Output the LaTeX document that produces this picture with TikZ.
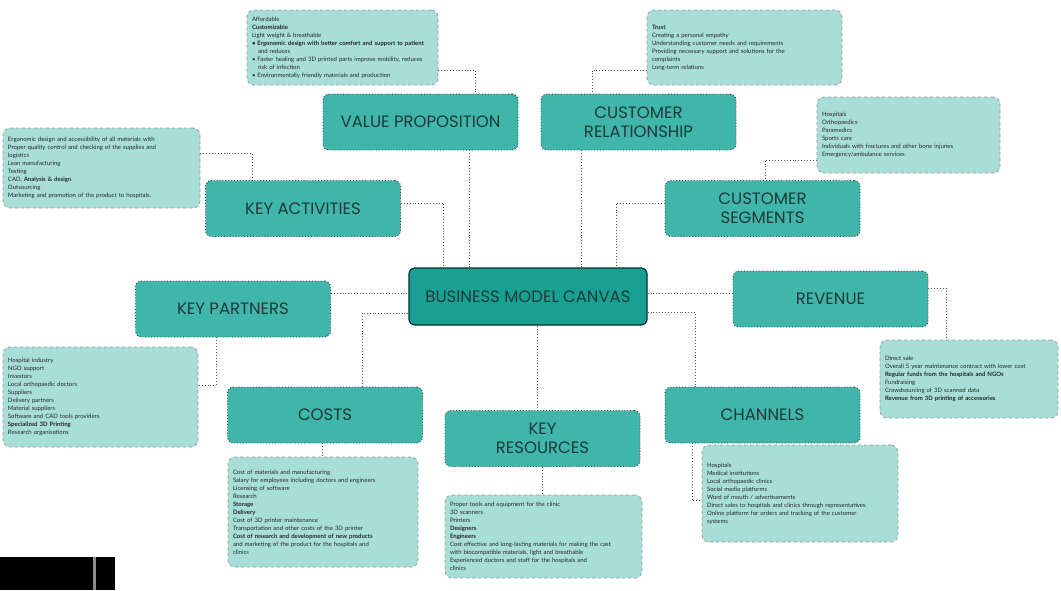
\documentclass[tikz,border=0pt]{standalone}
\usepackage{fontspec}
\setmainfont{Poppins}
\newfontfamily\smallfont{Lato}
\definecolor{mainfill}{HTML}{40B5AA}
\definecolor{centerfill}{HTML}{18A092}
\definecolor{detailfill}{HTML}{A8DED8}
\definecolor{titletext}{HTML}{1E3A38}
\definecolor{conncol}{HTML}{555555}
\tikzset{
  mainbox/.style={draw=black!75, dotted, line width=0.9pt, fill=mainfill, rounded corners=6pt,
    minimum width=195pt, minimum height=56pt, align=center, text=titletext,
    font=\fontsize{16.5}{19}\selectfont, inner sep=2pt},
  centerbox/.style={draw=black!70!centerfill, solid, line width=1.2pt, fill=centerfill, rounded corners=6pt,
    minimum width=238pt, minimum height=57pt, align=center, text=titletext,
    font=\fontsize{16.5}{19}\selectfont, inner sep=2pt},
  detailbox/.style={draw=black!40, dashed, line width=0.8pt, fill=detailfill, rounded corners=7pt,
    align=left, text=black!85, font=\smallfont\fontsize{6}{8}\selectfont, inner sep=5pt},
  conn/.style={draw=conncol, dotted, line width=0.9pt}
}
\begin{document}
\begin{tikzpicture}[x=1pt,y=-1pt]
\useasboundingbox (0,0) rectangle (1061,590);
\fill[white] (0,0) rectangle (1061,590);

% detail boxes
\node[detailbox, minimum width=191pt, minimum height=75pt, text width=181pt] (vpd) at (342.5,47.5) {Affordable\\\textbf{Customizable}\\Light weight \& breathable\\\textbf{• Ergonomic design with better comfort and support to patient}\\\quad and reduces\\• Faster healing and 3D printed parts improve mobility, reduces\\\quad risk of infection\\• Environmentally friendly materials and production};
\node[detailbox, minimum width=195pt, minimum height=75pt, text width=185pt] (crd) at (744.5,47.5) {\textbf{Trust}\\Creating a personal empathy\\Understanding customer needs and requirements\\Providing necessary support and solutions for the\\complaints\\Long-term relations};
\node[detailbox, minimum width=183pt, minimum height=76pt, text width=173pt] (csd) at (908.5,135) {Hospitals\\Orthopaedics\\Paramedics\\Sports care\\Individuals with fractures and other bone injuries\\Emergency/ambulance services};
\node[detailbox, minimum width=197pt, minimum height=80pt, text width=187pt] (kad) at (101.5,168) {Ergonomic design and accessibility of all materials with\\Proper quality control and checking of the supplies and\\logistics\\Lean manufacturing\\Testing\\CAD, \textbf{Analysis \& design}\\Outsourcing\\Marketing and promotion of the product to hospitals.};
\node[detailbox, minimum width=195pt, minimum height=100pt, text width=185pt] (kpd) at (100.5,397) {Hospital industry\\NGO support\\Investors\\Local orthopaedic doctors\\Suppliers\\Delivery partners\\Material suppliers\\Software and CAD tools providers\\\textbf{Specialized 3D Printing}\\Research organisations};
\node[detailbox, minimum width=178pt, minimum height=78pt, text width=168pt] (revd) at (969,379) {Direct sale\\Overall 5 year maintenance contract with lower cost\\\textbf{Regular funds from the hospitals and NGOs}\\Fundraising\\Crowdsourcing of 3D scanned data\\\textbf{Revenue from 3D printing of accessories}};
\node[detailbox, minimum width=190pt, minimum height=110pt, text width=180pt] (costsd) at (323,512) {Cost of materials and manufacturing\\Salary for employees including doctors and engineers\\Licensing of software\\Research\\\textbf{Storage}\\\textbf{Delivery}\\Cost of 3D printer maintenance\\Transportation and other costs of the 3D printer\\\textbf{Cost of research and development of new products}\\and marketing of the product for the hospitals and\\clinics};
\node[detailbox, minimum width=197pt, minimum height=83pt, text width=187pt] (krd) at (543.5,536.5) {Proper tools and equipment for the clinic\\3D scanners\\Printers\\\textbf{Designers}\\\textbf{Engineers}\\Cost effective and long-lasting materials for making the cast\\with biocompatible materials, light and breathable\\Experienced doctors and staff for the hospitals and\\clinics};
\node[detailbox, minimum width=196pt, minimum height=97pt, text width=186pt] (chd) at (800,493.5) {Hospitals\\Medical institutions\\Local orthopaedic clinics\\Social media platforms\\Word of mouth / advertisements\\Direct sales to hospitals and clinics through representatives\\Online platform for orders and tracking of the customer\\systems};

% main boxes
\node[mainbox] (vp) at (420.5,122) {VALUE PROPOSITION};
\node[mainbox] (cr) at (638.5,122) {CUSTOMER\\RELATIONSHIP};
\node[mainbox] (ka) at (303,208.5) {KEY ACTIVITIES};
\node[mainbox] (cs) at (762.5,208.5) {CUSTOMER\\SEGMENTS};
\node[mainbox] (kp) at (233,309) {KEY PARTNERS};
\node[mainbox] (rev) at (830.5,299) {REVENUE};
\node[mainbox] (costs) at (325,415) {COSTS};
\node[mainbox] (kr) at (542.5,438.5) {KEY\\RESOURCES};
\node[mainbox] (ch) at (762.5,415) {CHANNELS};
\node[centerbox] (bmc) at (528,296.5) {BUSINESS MODEL CANVAS};

% connectors: detail boxes
\draw[conn] (vpd.east |- 0,70) -| (vp.north -| 475,0);
\draw[conn] (crd.west |- 0,70) -| (cr.north -| 592,0);
\draw[conn] (csd.west |- 0,160) -| (cs.north -| 765,0);
\draw[conn] (kad.east |- 0,153) -| (ka.north -| 252,0);
\draw[conn] (kp.south -| 216,0) |- (kpd.east |- 0,385);
\draw[conn] (costs.south -| 322,0) -- (costsd.north -| 322,0);
\draw[conn] (kr.south -| 542,0) -- (krd.north -| 542,0);
\draw[conn] (rev.east |- 0,288) -| (revd.north -| 946,0);
\draw[conn] (ch.south -| 692,0) |- (chd.west |- 0,500);

% connectors: to centre
\draw[conn] (ka.east |- 0,203) -| (bmc.north -| 443,0);
\draw[conn] (vp.south -| 469,0) -- (bmc.north -| 469,0);
\draw[conn] (cr.south -| 581,0) -- (bmc.north -| 581,0);
\draw[conn] (cs.west |- 0,203) -| (bmc.north -| 616,0);
\draw[conn] (kp.east |- 0,293) -- (bmc.west |- 0,293);
\draw[conn] (costs.north -| 362,0) |- (bmc.west |- 0,313);
\draw[conn] (bmc.south -| 537,0) -- (kr.north -| 537,0);
\draw[conn] (bmc.east |- 0,293) -- (rev.west |- 0,293);
\draw[conn] (bmc.east |- 0,312) -| (ch.north -| 695,0);

% bottom-left black mark
\fill[black] (0,557) rectangle (93,590);
\fill[black!45] (93,557) rectangle (96,590);
\fill[black] (96,557) rectangle (115,590);
\end{tikzpicture}
\end{document}
